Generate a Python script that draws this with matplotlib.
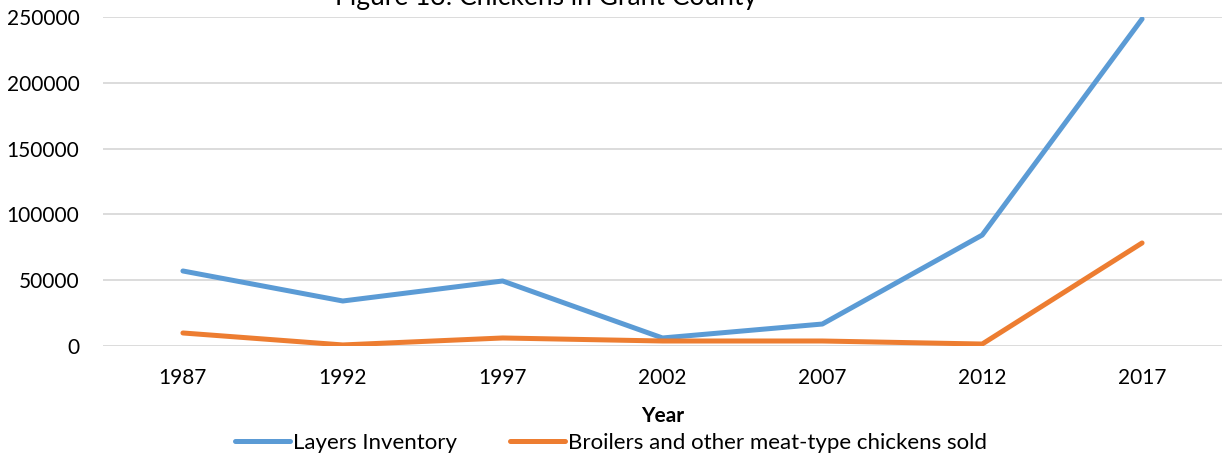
import numpy as np
import matplotlib.pyplot as plt

plt.rcParams['font.family'] = ['Lato', 'DejaVu Sans']

# Data
years = ['1987', '1992', '1997', '2002', '2007', '2012', '2017']
layers = [57000, 34200, 49400, 6100, 16700, 84300, 248500]
broilers = [9900, 800, 6100, 3800, 3800, 1500, 78300]
yticks = [0, 50000, 100000, 150000, 200000, 250000]

W, H = 1225, 459
fig = plt.figure(figsize=(W / 100, H / 100), dpi=100)
ax = fig.add_axes([103 / W, 1 - 346 / H, (1222 - 103) / W, (346 - 17) / H])

x = np.arange(len(years))
ax.plot(x, layers, color='#5B9BD5', lw=3.6, solid_capstyle='round',
        label='Layers Inventory')
ax.plot(x, broilers, color='#ED7D31', lw=3.6, solid_capstyle='round',
        label='Broilers and other meat-type chickens sold')

ax.set_xlim(-0.5, len(years) - 0.5)
ax.set_ylim(0, 250000)
ax.set_xticks(x)
ax.set_xticklabels(years)
ax.set_yticks(yticks)
ax.set_yticklabels([str(v) for v in yticks])
ax.grid(axis='y', color='#D9D9D9', lw=1.3)
ax.set_axisbelow(True)
for s in ax.spines.values():
    s.set_visible(False)
ax.tick_params(length=0, labelsize=15, colors='#000000')
ax.tick_params(axis='y', pad=17)
ax.tick_params(axis='x', pad=16)

ax.set_xlabel('Year', fontsize=15, fontweight='bold', labelpad=13)

fig.text(546 / W, 1 - 5 / H, 'Figure 13: Chickens in Grant County',
         ha='center', va='baseline', fontsize=19)

fig.legend(loc='center', bbox_to_anchor=(611 / W, 1 - 443 / H), ncol=2,
           frameon=False, fontsize=16, handlelength=2.45, handletextpad=0.15,
           columnspacing=2.4)

fig.savefig('out.png', dpi=100)
